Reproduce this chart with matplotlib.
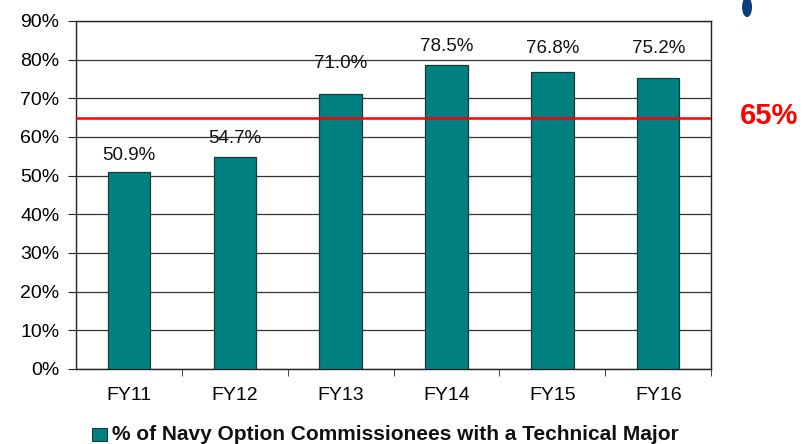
import matplotlib
matplotlib.use("Agg")
from matplotlib import pyplot as plt
from matplotlib.patches import Ellipse, Rectangle
import numpy as np

years = ["FY11", "FY12", "FY13", "FY14", "FY15", "FY16"]
pct_technical = [50.9, 54.7, 71.0, 78.5, 76.8, 75.2]
label_offsets = [4.4, 4.8, 8.1, 4.8, 6.0, 7.6]
goal = 65

plt.rcParams['font.family'] = ['Liberation Sans', 'DejaVu Sans']

fig = plt.figure(figsize=(8.05, 4.44), dpi=100)
ax = fig.add_axes([0.0944, 0.169, 0.789, 0.784])

x = np.arange(len(years))
ax.bar(x, pct_technical, width=0.4, color="#008080", edgecolor="#1a3a3a", linewidth=0.9, zorder=3)
for xi, v, off in zip(x, pct_technical, label_offsets):
    ax.text(xi, v + off, f"{v:.1f}%", ha="center", va="center", fontsize=13.5, color="#111111")

ax.axhline(goal, color="#ff0000", linewidth=1.8, zorder=4)

ax.set_xlim(-0.5, len(years) - 0.5)
ax.set_ylim(0, 90)
ax.set_yticks(np.arange(0, 91, 10))
ax.set_yticklabels([f"{t}%" for t in range(0, 91, 10)], fontsize=14)
ax.yaxis.grid(True, color="#333333", linewidth=0.9, zorder=0)
ax.set_axisbelow(True)

ax.set_xticks(x)
ax.set_xticklabels(years, fontsize=14)
ax.tick_params(axis="x", length=0, pad=13)
ax.set_xticks(np.arange(0.5, len(years), 1.0), minor=True)
ax.tick_params(axis="x", which="minor", length=5, direction="out", color="#222222")
ax.tick_params(axis="y", length=6, direction="out", color="#222222", pad=6)
for s in ax.spines.values():
    s.set_color("#222222")
    s.set_linewidth(1.0)

# legend under the plot
fig.patches.append(Rectangle((0.1145, 0.006), 0.0185, 0.031, transform=fig.transFigure,
                             facecolor="#008080", edgecolor="#1a3a3a", linewidth=0.8))
fig.text(0.139, 0.021, "% of Navy Option Commissionees with a Technical Major",
         ha="left", va="center", fontsize=15, fontweight="bold", color="#111111")

fig.text(0.919, 0.739, "65%", ha="left", va="center", fontsize=21, fontweight="bold", color="#ff0000")

fig.patches.append(Ellipse((0.928, 0.984), 0.0124, 0.045, transform=fig.transFigure,
                           facecolor="#0a3d7a", edgecolor="none"))

fig.savefig("out.png", dpi=100)
